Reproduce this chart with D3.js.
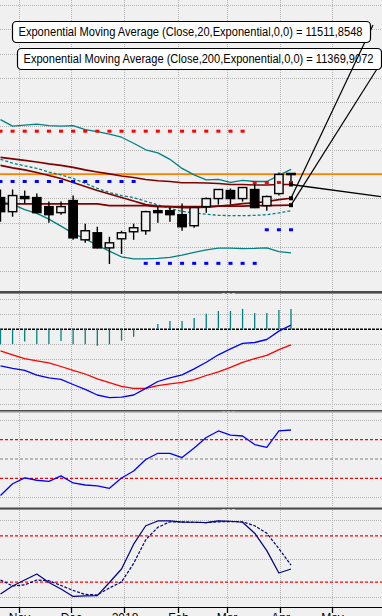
<!DOCTYPE html>
<html><head><meta charset="utf-8">
<script src="https://cdn.jsdelivr.net/npm/d3@7"></script>
<style>
html,body{margin:0;padding:0;background:#f0f0f0;overflow:hidden}
svg{display:block}
</style></head><body>
<svg id="chart" width="382" height="616"></svg>
<script>
// ---------------- DATA ----------------
const dates = ["2017-10-21","2017-10-28","2017-11-04","2017-11-11","2017-11-18","2017-11-25","2017-12-02","2017-12-09","2017-12-16","2017-12-23","2017-12-30","2018-01-06","2018-01-13","2018-01-20","2018-01-27","2018-02-03","2018-02-10","2018-02-17","2018-02-24","2018-03-03","2018-03-10","2018-03-17","2018-03-24","2018-03-31","2018-04-07"];
const open  = [11527,11235,11548,11527,11340,11215,11465,10652,10798,10485,10673,10819,10840,11256,11256,11173,10944,11340,11506,11673,11506,11694,11360,11610,12027];
const high  = [11694,11694,11673,11610,11444,11444,11569,10985,10923,10715,10840,10985,11256,11340,11319,11402,11340,11527,11700,11715,11735,11840,11569,12048,12035];
const low   = [11027,11131,11402,11204,11006,11173,10652,10590,10475,10152,10360,10652,10756,11006,11027,10840,10902,11215,11381,11381,11444,11308,11256,11569,11798];
const close = [11235,11569,11506,11215,11173,11340,10694,10840,10485,10590,10798,10902,11235,11215,11173,10923,11319,11506,11694,11506,11735,11319,11548,12006,12012];

const bbUpper  = [13142,13006,13027,13048,13017,13006,13017,12933,12892,12840,12777,12652,12517,12454,12319,12131,11996,11892,11902,11840,11881,11860,11860,11985,12110];
const bbMiddle = [12319,12242,12183,12131,12056,11996,11923,11823,11719,11631,11569,11527,11450,11375,11306,11242,11208,11183,11160,11152,11152,11158,11173,11208,11256];
const bbLower  = [11444,11385,11277,11198,11081,10935,10785,10673,10540,10419,10298,10256,10256,10267,10288,10333,10392,10444,10479,10481,10469,10473,10485,10408,10381];

const maSlow = [12360,12329,12298,12263,12225,12194,12152,12100,12058,12017,11975,11944,11902,11875,11860,11833,11833,11829,11819,11798,11798,11788,11788,11798,11798];
const ema20  = [12194,12142,12100,12048,11985,11923,11840,11756,11673,11600,11527,11454,11381,11350,11340,11319,11319,11329,11350,11371,11402,11417,11444,11485,11511.8548];
const ema200 = [11396,11396,11396,11396,11396,11396,11396,11396,11396,11360,11360,11360,11360,11340,11340,11340,11340,11340,11350,11350,11350,11360,11360,11365,11369.9072];

const levelUp   = [12902,12902,12902,12902,12902,12902,12902,12902,12902,12902,12902,12902,12902,12902,12902,12902,12902,12902,12902,12902,12902,11840,11840,11840,11840];
const levelDown = [11860,11860,11860,11860,11860,11860,11860,11860,11860,11860,11860,11860,10165,10165,10165,10165,10165,10165,10165,10165,10165,10165,10860,10860,10860];

const bidPrice = 12012;
const trendDates  = ["2018-04-07","2018-05-29"];
const trendValues = [11798,11548];

const macdMain   = [-122,-130,-137,-153,-162,-167,-184,-200,-219,-228,-226,-219,-197,-174,-162,-152,-132,-110,-85,-65,-47,-44,-34,-6,14];
const macdSignal = [-72,-85,-98,-105,-112,-124,-137,-149,-165,-178,-190,-197,-197,-188,-182,-177,-168,-154,-142,-127,-110,-98,-87,-68,-52];
const macdHist   = [-50,-49,-41,-49,-49,-39,-50,-50,-55,-50,-38,-25,0,18,28,28,38,52,61,61,68,54,54,64,68];

const rsi = [12.4,24.5,30.6,28.1,27,32.6,25.3,23.2,22.2,19.8,30.4,37.6,49.5,55.9,55.9,51.5,61.3,72.2,78.9,74.7,73.7,64.9,62,78.9,79.9];
const stochK = [4.7,15,22.7,30.5,19.5,11.1,1.4,2.1,2.5,19.5,37,69.3,93.2,99.4,99.4,98,97.7,97.3,99.4,99,97.7,83.5,60.9,31.8,37];
const stochD = [22.7,15,16.3,22.7,21.8,15.6,9.2,4,3.4,12.4,20.2,44.3,75,91.2,98.3,98.3,97.7,97.3,98.3,98.6,98.3,93.2,83.5,63.4,42.1];

const mainTicks = [10000,10500,11000,11500,12000,12500,13000,13500,14000,14500,15000,15500];
const macdTicks = [100,50,-50,-100,-150,-200,-250];
const rsiGrid = [90,10], rsiRed = [70,30], rsiMid = [50];
const stoGrid = [100,50,0], stoRed = [80,20];

// ---------------- DRAW ----------------
const W = 382, H = 616;
const svg = d3.select("#chart");
const parse = d3.utcParse("%Y-%m-%d");
const D = dates.map(parse);

const x = d3.scaleUtc().domain([parse("2017-10-21"), parse("2018-05-01")]).range([0.48, 332.5]);
const P = {
  main: {y0: 0, y1: 291},
  macd: {y0: 294, y1: 410},
  rsi:  {y0: 412.5, y1: 507.5},
  sto:  {y0: 510, y1: 607}
};
const yMain = d3.scaleLinear().domain([10000, 13500]).range([271.3, 102.3]);
const yMacd = d3.scaleLinear().domain([0, -50]).range([329.3, 344.3]);
const yRsi  = d3.scaleLinear().domain([0, 100]).range([507.5, 410.5]);
const ySto  = d3.scaleLinear().domain([0, 100]).range([597.5, 520.5]);

svg.append("rect").attr("width", W).attr("height", H).attr("fill", "#f0f0f0");
const defs = svg.append("defs");
Object.entries(P).forEach(([k, p]) => {
  defs.append("clipPath").attr("id", "clip-" + k).append("rect")
    .attr("x", 0).attr("y", p.y0).attr("width", W).attr("height", p.y1 - p.y0);
});

const months = d3.utcMonth.range(parse("2017-11-01"), parse("2018-05-02"));
const px = v => Math.floor(v) + 0.5;
const GRID = "#b4b4b4";

function panel(key, ys) {
  const p = P[key];
  const g = svg.append("g").attr("clip-path", `url(#clip-${key})`);
  const gg = g.append("g").attr("shape-rendering", "crispEdges");
  gg.selectAll("line.v").data(months).join("line").attr("class", "v")
    .attr("x1", d => px(x(d))).attr("x2", d => px(x(d)))
    .attr("y1", p.y0).attr("y2", p.y1)
    .attr("stroke", GRID).attr("stroke-dasharray", "1,1");
  gg.selectAll("line.h").data(ys).join("line").attr("class", "h")
    .attr("x1", 0).attr("x2", W).attr("y1", d => px(d)).attr("y2", d => px(d))
    .attr("stroke", GRID).attr("stroke-dasharray", "1,1");
  return g;
}
function hlevel(g, y, color, dash, w) {
  g.append("line").attr("x1", 0).attr("x2", W).attr("y1", y).attr("y2", y)
    .attr("stroke", color).attr("stroke-width", w || 1.3).attr("stroke-dasharray", dash);
}
function series(g, vals, yS, color, w, dash) {
  const line = d3.line().x((d, i) => x(D[i])).y(d => yS(d));
  g.append("path").attr("d", line(vals)).attr("fill", "none")
    .attr("stroke", color).attr("stroke-width", w).attr("stroke-dasharray", dash || null)
    .attr("stroke-linejoin", "round");
}

// ---- main panel ----
const gMain = panel("main", mainTicks.map(yMain));
hlevel(gMain, yMain(bidPrice), "#ff8000", null, 1.6);
series(gMain, bbUpper, yMain, "#008080", 1.3);
series(gMain, bbLower, yMain, "#008080", 1.3);
series(gMain, bbMiddle, yMain, "#008080", 1.3, "3,2");
series(gMain, maSlow, yMain, "#800000", 1.6);
series(gMain, ema20, yMain, "#800000", 1.6);
series(gMain, ema200, yMain, "#800000", 1.6);

const candles = D.map((d, i) => ({d, o: open[i], h: high[i], l: low[i], c: close[i]}));
const cg = gMain.append("g");
cg.selectAll("line.w").data(candles).join("line").attr("class", "w")
  .attr("x1", d => x(d.d)).attr("x2", d => x(d.d))
  .attr("y1", d => yMain(d.h)).attr("y2", d => yMain(d.l))
  .attr("stroke", "#000").attr("stroke-width", 1.4);
cg.selectAll("rect.b").data(candles).join("rect").attr("class", "b")
  .attr("x", d => x(d.d) - 4.2).attr("width", 8.4)
  .attr("y", d => Math.min(yMain(d.o), yMain(d.c)))
  .attr("height", d => Math.max(1.2, Math.abs(yMain(d.o) - yMain(d.c))))
  .attr("fill", d => d.c < d.o ? "#000" : "#f0f0f0")
  .attr("stroke", "#000").attr("stroke-width", 1.4);

const mk = gMain.append("g");
mk.selectAll("rect.u").data(levelUp).join("rect").attr("class", "u")
  .attr("x", (d, i) => x(D[i]) - 2).attr("y", d => yMain(d) - 1.5)
  .attr("width", 4).attr("height", 3).attr("fill", "#ff0000");
mk.selectAll("rect.dn").data(levelDown).join("rect").attr("class", "dn")
  .attr("x", (d, i) => x(D[i]) - 2).attr("y", d => yMain(d) - 1.5)
  .attr("width", 4).attr("height", 3).attr("fill", "#0000ff");

const TD = trendDates.map(parse);
gMain.append("line")
  .attr("x1", x(TD[0])).attr("y1", yMain(trendValues[0]))
  .attr("x2", x(TD[1])).attr("y2", yMain(trendValues[1]))
  .attr("stroke", "#000").attr("stroke-width", 1.3);

const last = D.length - 1;
const endVals = [maSlow[last], ema20[last], ema200[last]];
gMain.selectAll("rect.sq").data(endVals).join("rect").attr("class", "sq")
  .attr("x", x(D[last]) - 2).attr("y", d => yMain(d) - 2)
  .attr("width", 4).attr("height", 4).attr("fill", "#000");

// ---- MACD ----
const gMacd = panel("macd", macdTicks.map(yMacd));
hlevel(gMacd, yMacd(0), "#000", "3,1", 1.4);
gMacd.selectAll("line.hist").data(macdHist).join("line").attr("class", "hist")
  .attr("x1", (d, i) => x(D[i])).attr("x2", (d, i) => x(D[i]))
  .attr("y1", yMacd(0)).attr("y2", d => yMacd(d))
  .attr("stroke", "#008080").attr("stroke-width", 1.3);
series(gMacd, macdSignal, yMacd, "#ff0000", 1.3);
series(gMacd, macdMain, yMacd, "#0000ff", 1.3);

// ---- RSI ----
const gRsi = panel("rsi", rsiGrid.map(yRsi));
rsiRed.forEach(v => hlevel(gRsi, yRsi(v), "#ff0000", "3,2", 1.2));
rsiMid.forEach(v => hlevel(gRsi, yRsi(v), "#808080", "3,2", 1.2));
series(gRsi, rsi, yRsi, "#0000ff", 1.3);

// ---- Stochastic ----
const gSto = panel("sto", stoGrid.map(ySto));
stoRed.forEach(v => hlevel(gSto, yRsi === null ? 0 : ySto(v), "#ff0000", "3,2", 1.2));
series(gSto, stochD, ySto, "#000080", 1.2, "3,1.5");
series(gSto, stochK, ySto, "#000080", 1.2);

// ---- separators ----
[[291, 294], [410, 412.5], [507.5, 510]].forEach(([a, b]) => {
  svg.append("rect").attr("x", 0).attr("y", a).attr("width", W).attr("height", b - a - 1).attr("fill", "#4a4a4a");
  svg.append("rect").attr("x", 0).attr("y", b - 1).attr("width", W).attr("height", 1).attr("fill", "#8a8a8a");
  svg.append("line").attr("x1", 222).attr("x2", 237).attr("y1", b - 0.5).attr("y2", b - 0.5)
    .attr("stroke", "#d0d0d0").attr("stroke-dasharray", "3,2");
});

// ---- bottom time axis ----
const ax = svg.append("g");
ax.append("line").attr("x1", 0).attr("x2", W).attr("y1", 607.5).attr("y2", 607.5).attr("stroke", "#000").attr("stroke-width", 1.2);
ax.selectAll("line.t").data(months).join("line").attr("class", "t")
  .attr("x1", d => px(x(d))).attr("x2", d => px(x(d))).attr("y1", 607).attr("y2", 613)
  .attr("stroke", "#000").attr("stroke-width", 1.3);
const fmtMonth = d => d.getUTCMonth() === 0 ? d3.utcFormat("%Y")(d) : d3.utcFormat("%b")(d);
ax.selectAll("text").data(months).join("text")
  .attr("x", d => x(d)).attr("y", 622).attr("text-anchor", "middle")
  .attr("font-family", "Liberation Sans, Arial, sans-serif").attr("font-size", 12)
  .text(fmtMonth);

// ---- EMA labels ----
const fmtVal = v => d3.format(".4f")(v).replace(".", ",");
const labels = [
  {text: `Exponential Moving Average (Close,200,Exponential,0,0) = ${fmtVal(ema200[last])}`,
   box: [17.5, 48.5, 364, 21], tx: 23.5, ty: 63, len: 350, from: [377, 69], val: ema200[last]},
  {text: `Exponential Moving Average (Close,20,Exponential,0,0) = ${fmtVal(ema20[last])}`,
   box: [12.5, 21.5, 358, 21], tx: 18.5, ty: 36, len: 344, from: [373, 25], val: ema20[last]}
];
const lg = svg.append("g");
labels.forEach(L => {
  lg.append("line").attr("x1", L.from[0]).attr("y1", L.from[1])
    .attr("x2", x(D[last])).attr("y2", yMain(L.val))
    .attr("stroke", "#000").attr("stroke-width", 1.2);
  lg.append("rect").attr("x", L.box[0]).attr("y", L.box[1]).attr("width", L.box[2]).attr("height", L.box[3])
    .attr("rx", 4).attr("fill", "#ffffff").attr("stroke", "#000").attr("stroke-width", 1.2);
  lg.append("text").attr("x", L.tx).attr("y", L.ty)
    .attr("font-family", "Liberation Sans, Arial, sans-serif").attr("font-size", 12)
    .attr("textLength", L.len).attr("lengthAdjust", "spacingAndGlyphs")
    .text(L.text);
});
</script>
</body></html>
